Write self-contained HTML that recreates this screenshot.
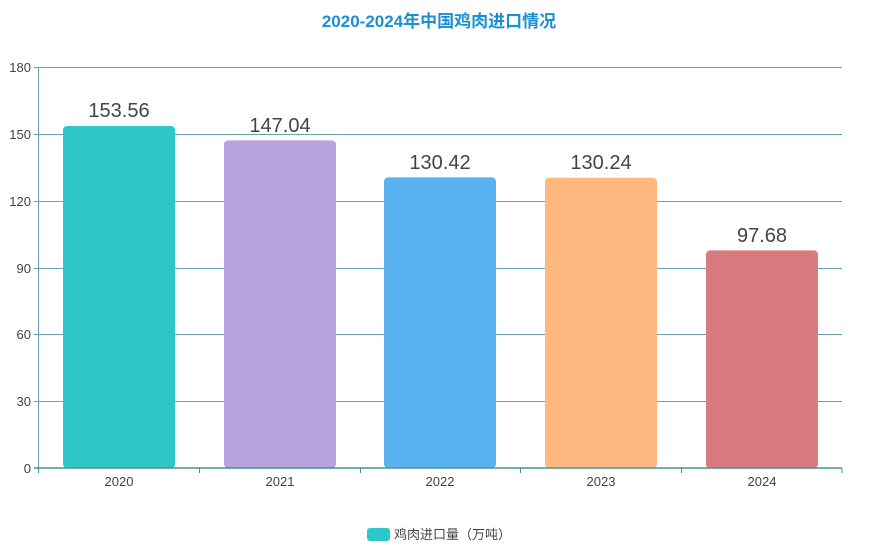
<!DOCTYPE html>
<html><head><meta charset="utf-8"><style>
html,body{margin:0;padding:0;background:#fff;}
svg{display:block;font-family:"Liberation Sans","Noto Sans CJK SC",sans-serif;}
</style></head><body>
<svg width="878" height="551" viewBox="0 0 878 551">
<text x="439" y="27" text-anchor="middle" font-size="17" font-weight="bold" fill="#1a8fd1">2020-2024年中国鸡肉进口情况</text>
<g stroke="#6aa3ae" stroke-width="1">
<line x1="34" y1="67.5" x2="842" y2="67.5"/>
<line x1="34" y1="134.5" x2="842" y2="134.5"/>
<line x1="34" y1="201.5" x2="842" y2="201.5"/>
<line x1="34" y1="268.5" x2="842" y2="268.5"/>
<line x1="34" y1="334.5" x2="842" y2="334.5"/>
<line x1="34" y1="401.5" x2="842" y2="401.5"/>
<line x1="38.5" y1="67" x2="38.5" y2="468"/>
</g>
<g font-size="13" fill="#444" text-anchor="end">
<text x="31" y="72">180</text><text x="31" y="139">150</text><text x="31" y="206">120</text>
<text x="31" y="273">90</text><text x="31" y="339">60</text><text x="31" y="406">30</text><text x="31" y="473">0</text>
</g>
<rect x="63" y="126" width="112" height="342" rx="4" fill="#2ec7c9"/>
<rect x="224" y="140.4" width="112" height="327.6" rx="4" fill="#b6a2de"/>
<rect x="384" y="177.4" width="112" height="290.6" rx="4" fill="#5ab1ef"/>
<rect x="545" y="177.8" width="112" height="290.2" rx="4" fill="#ffb980"/>
<rect x="706" y="250.4" width="112" height="217.6" rx="4" fill="#d87a80"/>
<g stroke="#4d8f99" stroke-width="1.5">
<line x1="34" y1="468" x2="842" y2="468"/>
</g>
<g stroke="#4d8f99" stroke-width="1">
<line x1="38.5" y1="468" x2="38.5" y2="473"/><line x1="199.5" y1="468" x2="199.5" y2="473"/>
<line x1="360.5" y1="468" x2="360.5" y2="473"/><line x1="520.5" y1="468" x2="520.5" y2="473"/>
<line x1="681.5" y1="468" x2="681.5" y2="473"/><line x1="842" y1="468" x2="842" y2="473"/>
</g>
<g font-size="13" fill="#444" text-anchor="middle">
<text x="119" y="486">2020</text><text x="280" y="486">2021</text><text x="440" y="486">2022</text>
<text x="601" y="486">2023</text><text x="762" y="486">2024</text>
</g>
<g font-size="20" fill="#444" text-anchor="middle">
<text x="119" y="117">153.56</text><text x="280" y="132">147.04</text><text x="440" y="169">130.42</text>
<text x="601" y="169">130.24</text><text x="762" y="242">97.68</text>
</g>
<rect x="367" y="528" width="23" height="13" rx="3" fill="#2ec7c9"/>
<text x="394" y="539" font-size="13" fill="#444">鸡肉进口量（万吨）</text>
</svg>
</body></html>
